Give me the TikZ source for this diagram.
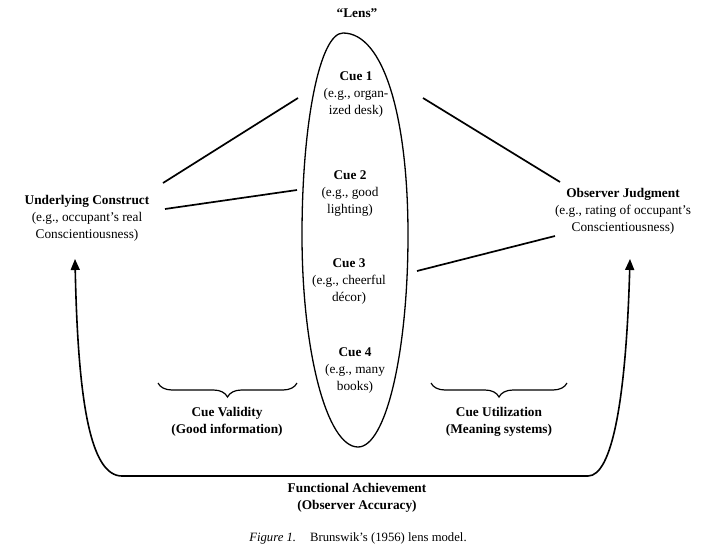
\documentclass[tikz,border=0pt]{standalone}
\usepackage{fontspec}
\setmainfont{Liberation Serif}
\usetikzlibrary{arrows.meta,decorations.pathreplacing}
\tikzset{
  txt/.style={align=center, inner sep=0pt, font=\fontsize{13.3}{17}\selectfont},
  link/.style={line width=1.7pt},
  lensline/.style={line width=1.3pt},
  feedback/.style={line width=1.6pt, {Triangle[width=9pt,length=11pt]}-{Triangle[width=9pt,length=11pt]}},
  cuebrace/.style={line width=1.2pt, decorate, decoration={brace, mirror, amplitude=14pt}},
}
\begin{document}
\begin{tikzpicture}[x=1pt,y=-1pt]
\useasboundingbox (0,0) rectangle (726,557);
% lens
\coordinate (lt) at (343,33);
\coordinate (lr) at (408,235);
\coordinate (lb) at (358,447);
\coordinate (ll) at (302,235);
\draw[lensline] (lt) .. controls (384,33) and (408,118) .. (lr)
  .. controls (408,352) and (386,447) .. (lb)
  .. controls (327,447) and (302,352) .. (ll)
  .. controls (302,122) and (320,33) .. (lt) -- cycle;
\node[txt, font=\fontsize{13.3}{17}\selectfont\bfseries] (lenslabel) at (357,13) {``Lens''};
% cues
\node[txt] (cue1) at (356,95) {\textbf{Cue 1}\\(e.g., organ-\\ized desk)};
\node[txt] (cue2) at (350,194) {\textbf{Cue 2}\\(e.g., good\\lighting)};
\node[txt] (cue3) at (349,282) {\textbf{Cue 3}\\(e.g., cheerful\\décor)};
\node[txt] (cue4) at (355,371) {\textbf{Cue 4}\\(e.g., many\\books)};
% ends
\node[txt] (uc) at (87,218) {\textbf{Underlying Construct}\\(e.g., occupant's real\\Conscientiousness)};
\node[txt] (oj) at (623,211) {\textbf{Observer Judgment}\\(e.g., rating of occupant's\\Conscientiousness)};
% brace labels
\node[txt, font=\fontsize{13.3}{17}\selectfont\bfseries] (cv) at (227,422) {Cue Validity\\(Good information)};
\node[txt, font=\fontsize{13.3}{17}\selectfont\bfseries] (cu) at (499,422) {Cue Utilization\\(Meaning systems)};
\node[txt, font=\fontsize{13.3}{17}\selectfont\bfseries] (fa) at (357,498) {Functional Achievement\\(Observer Accuracy)};
\node[txt, font=\fontsize{12.7}{16}\selectfont] (cap) at (358,538) {\textit{Figure 1.}\hspace{1.1em}Brunswik's (1956) lens model.};
% connector coordinates
\coordinate (l1a) at (163,183); \coordinate (l1b) at (298,98);
\coordinate (l2a) at (165,209); \coordinate (l2b) at (297,190);
\coordinate (r1a) at (423,98);  \coordinate (r1b) at (560,182);
\coordinate (r2a) at (417,271); \coordinate (r2b) at (555,236);
\draw[link] (l1a) -- (l1b);
\draw[link] (l2a) -- (l2b);
\draw[link] (r1a) -- (r1b);
\draw[link] (r2a) -- (r2b);
% feedback loop
\coordinate (ltip) at (75,259);
\coordinate (rtip) at (630,259);
\coordinate (bl) at (122,476);
\coordinate (br) at (588,476);
\draw[feedback] (ltip) .. controls (78,400) and (90,476) .. (bl) -- (br) .. controls (612,476) and (626,400) .. (rtip);
% braces
\coordinate (b1a) at (158,383); \coordinate (b1b) at (297,383);
\coordinate (b2a) at (431,383); \coordinate (b2b) at (567,383);
\draw[cuebrace] (b1a) -- (b1b);
\draw[cuebrace] (b2a) -- (b2b);
\end{tikzpicture}
\end{document}
